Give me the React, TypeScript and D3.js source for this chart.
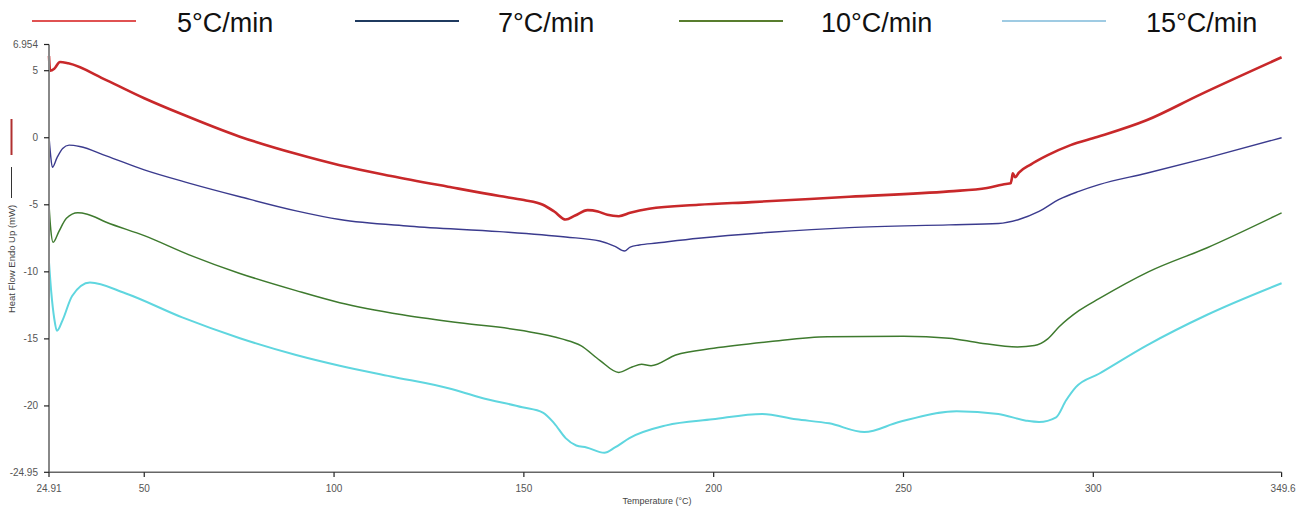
import React from "react";
import { scaleLinear, line, curveMonotoneX } from "d3";

// DSC traces, heat flow (mW) vs temperature (°C)
const rate5: [number, number][] = [
  [24.91, 6.1], [25.2, 5.0], [26.3, 5.15], [27.8, 5.65], [30, 5.55], [40, 4.3],
  [50, 2.95], [60, 1.75], [75, 0.1], [90, -1.2], [101.5, -2.05], [115, -2.85],
  [130, -3.65], [143.6, -4.35], [150, -4.65], [155, -5.0], [158, -5.5], [161, -6.1],
  [163.5, -5.8], [166.8, -5.4], [169.5, -5.5], [172, -5.75], [175, -5.85], [178, -5.6],
  [183, -5.3], [196, -5.0], [210, -4.8], [235.7, -4.4], [262, -4.0], [272, -3.75],
  [277, -3.45], [278.2, -3.4], [278.5, -3.1], [278.8, -2.65], [279.4, -2.95], [280.4, -2.6],
  [283.5, -2.0], [288, -1.3], [294, -0.55], [301, 0.05], [314, 1.3], [328, 3.2], [349.6, 6.0]
];
const rate7: [number, number][] = [
  [24.91, 0.1], [25.3, -1.2], [25.8, -2.2], [27, -1.5], [28.5, -0.8], [30.2, -0.55],
  [33, -0.65], [40, -1.35], [50, -2.4], [62, -3.4], [75.2, -4.4], [90, -5.45], [101.5, -6.1],
  [120, -6.6], [143.6, -7.0], [161, -7.4], [170, -7.7], [174, -8.1], [176.5, -8.45],
  [178, -8.15], [180.4, -8.0], [185, -7.85], [196, -7.5], [215, -7.05], [235.7, -6.7],
  [262, -6.5], [275, -6.4], [280.4, -6.1], [285.7, -5.5], [291, -4.6], [296.2, -4.0],
  [301.5, -3.5], [314, -2.65], [330, -1.5], [349.6, 0.0]
];
const rate10: [number, number][] = [
  [24.91, -5.0], [25.3, -6.6], [26, -7.8], [27.5, -7.0], [29.5, -6.0], [32.5, -5.6],
  [35, -5.7], [40, -6.3], [50, -7.3], [62, -8.75], [75, -10.1], [90, -11.4], [101.5, -12.3],
  [118, -13.2], [133, -13.8], [150, -14.4], [160, -15.0], [165, -15.5], [170, -16.6],
  [175, -17.5], [178.5, -17.1], [181, -16.9], [183.5, -17.0], [190, -16.2], [200, -15.7],
  [215, -15.2], [230, -14.85], [250, -14.8], [262, -14.95], [270, -15.3], [280, -15.6],
  [284.5, -15.5], [288, -15.0], [291, -14.1], [296.2, -12.9], [301.5, -12.0],
  [314.5, -10.0], [330, -8.2], [349.6, -5.6]
];
const rate15: [number, number][] = [
  [24.91, -9.3], [25.5, -11.5], [26.3, -13.5], [27, -14.4], [28.5, -13.6], [31, -11.8],
  [35.7, -10.8], [45, -11.6], [60, -13.4], [75.2, -14.95], [90, -16.2], [101.5, -17.0],
  [115, -17.8], [130.4, -18.7], [138.3, -19.35], [149.6, -20.1], [155, -20.5],
  [158, -21.3], [161, -22.4], [163.8, -22.95], [166.5, -23.1], [171.2, -23.5],
  [174, -23.1], [177.8, -22.4], [187.5, -21.45], [199.7, -21.0], [212.8, -20.6],
  [221.7, -21.0], [230.4, -21.3], [239.7, -21.95], [248.8, -21.2], [264, -20.4],
  [275, -20.6], [282.3, -21.1], [285.7, -21.2], [290.2, -20.85], [292.8, -19.6],
  [295.4, -18.6], [301.5, -17.6], [314, -15.5], [330, -13.2], [349.6, -10.85]
];

const seriesNames = ["5°C/min", "7°C/min", "10°C/min", "15°C/min"];
const seriesData = [rate5, rate7, rate10, rate15];
const traceColors = ["#c8282a", "#3b3b8e", "#3e7a2e", "#5fd6df"];
const traceWidths = [2.6, 1.4, 1.5, 2];
const legendColors = ["#e05252", "#1f3a5f", "#587d2e", "#9fcbe3"];
const legendLineX = [32, 355, 679, 1002];
const legendTextX = [177, 498, 821, 1146];

const xTicks = [24.91, 50, 100, 150, 200, 250, 300, 349.6];
const yTicks = [6.954, 5, 0, -5, -10, -15, -20, -24.95];

const W = 1301;
const H = 509;

export default function App() {
  const x = scaleLinear().domain([24.91, 349.6]).range([49, 1281.6]);
  const y = scaleLinear().domain([-24.95, 6.954]).range([472.3, 44.5]);
  const path = line<[number, number]>()
    .x(d => x(d[0]))
    .y(d => y(d[1]))
    .curve(curveMonotoneX);

  const tickFont = "Liberation Sans, Arial, sans-serif";

  return (
    <svg
      width={W}
      height={H}
      style={{ position: "absolute", left: 0, top: 0, background: "#fff" }}
    >
      {/* legend */}
      {seriesNames.map((name, i) => (
        <g key={name}>
          <line
            x1={legendLineX[i]}
            x2={legendLineX[i] + 104}
            y1={21}
            y2={21}
            stroke={legendColors[i]}
            strokeWidth={2}
          />
          <text x={legendTextX[i]} y={32} fontFamily={tickFont} fontSize={27} fill="#111">
            {name}
          </text>
        </g>
      ))}

      {/* traces */}
      {seriesData.map((d, i) => (
        <path
          key={i}
          d={path(d) || ""}
          fill="none"
          stroke={traceColors[i]}
          strokeWidth={traceWidths[i]}
          strokeLinejoin="round"
        />
      ))}

      {/* y axis */}
      <line x1={49} x2={49} y1={y(6.954)} y2={y(-24.95)} stroke="#888" strokeWidth={2} />
      {yTicks.map(t => (
        <g key={t}>
          <line x1={44} x2={49} y1={y(t)} y2={y(t)} stroke="#222" strokeWidth={1.2} />
          <text
            x={38}
            y={y(t) + 3.5}
            textAnchor="end"
            fontFamily={tickFont}
            fontSize={10}
            fill="#555"
          >
            {t}
          </text>
        </g>
      ))}

      {/* x axis */}
      <line x1={49} x2={x(349.6)} y1={472.3} y2={472.3} stroke="#666" strokeWidth={1.5} />
      {xTicks.map(t => (
        <g key={t}>
          <line x1={x(t)} x2={x(t)} y1={472.3} y2={477} stroke="#222" strokeWidth={1.2} />
          <text
            x={x(t)}
            y={492}
            textAnchor={t === 349.6 ? "start" : "middle"}
            dx={t === 349.6 ? -11 : 0}
            fontFamily={tickFont}
            fontSize={10}
            fill="#555"
          >
            {t}
          </text>
        </g>
      ))}
      <text
        x={657}
        y={504}
        textAnchor="middle"
        fontFamily={tickFont}
        fontSize={9}
        fill="#444"
      >
        Temperature (°C)
      </text>

      {/* y title with trace keys */}
      <text
        transform="translate(15,259) rotate(-90)"
        textAnchor="middle"
        fontFamily={tickFont}
        fontSize={9.5}
        fill="#444"
      >
        Heat Flow Endo Up (mW)
      </text>
      <line x1={11.5} x2={11.5} y1={167} y2={198} stroke="#333" strokeWidth={1} />
      <line x1={11.5} x2={11.5} y1={119} y2={155} stroke="#b03030" strokeWidth={2} />
    </svg>
  );
}
